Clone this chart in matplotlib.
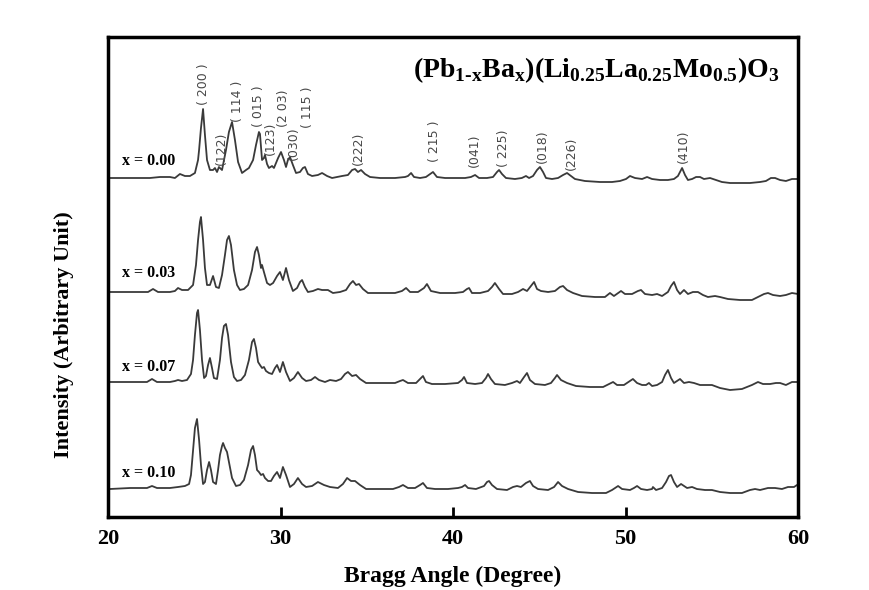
import matplotlib
matplotlib.use("Agg")
from matplotlib import pyplot as plt

# x = 0.00
angle_000 = [20.12, 21.28, 22.43, 23.01, 23.59, 23.88, 24.17, 24.46, 24.75, 25.04, 25.22, 25.28,
             25.39, 25.51, 25.62, 25.74, 25.91, 26.09, 26.20, 26.32, 26.43, 26.61, 26.84, 27.01,
             27.19, 27.36, 27.54, 27.77, 28.00, 28.17, 28.41, 28.58, 28.75, 28.81, 28.93, 29.04,
             29.10, 29.22, 29.33, 29.51, 29.62, 29.86, 30.03, 30.20, 30.32, 30.43, 30.55, 30.72,
             30.90, 31.13, 31.30, 31.42, 31.59, 31.83, 32.17, 32.41, 32.70, 32.99, 33.28, 33.57,
             33.91, 34.15, 34.32, 34.49, 34.67, 34.90, 35.19, 35.77, 36.64, 37.22, 37.39, 37.57,
             37.74, 38.09, 38.43, 38.67, 38.84, 39.07, 39.54, 40.12, 40.70, 41.04, 41.28, 41.51,
             41.97, 42.32, 42.55, 42.67, 42.84, 43.07, 43.59, 43.99, 44.23, 44.41, 44.64, 44.87,
             45.04, 45.22, 45.39, 45.74, 46.09, 46.38, 46.61, 46.84, 47.07, 47.65, 48.52, 49.22,
             49.68, 50.03, 50.26, 50.55, 50.96, 51.25, 51.54, 52.00, 52.46, 52.81, 53.04, 53.28,
             53.45, 53.62, 53.86, 54.09, 54.32, 54.55, 54.90, 55.25, 55.59, 56.06, 56.64, 57.22,
             57.80, 58.14, 58.43, 58.67, 58.96, 59.30, 59.65, 60.00]
inten_000 = [0, 0, 0, 1, 1, 0, 4, 2, 2, 5, 18, 28,
             50, 69, 43, 18, 8, 8, 10, 6, 11, 8, 28, 46,
             56, 38, 16, 5, 8, 10, 18, 33, 46, 44, 18, 20,
             23, 14, 10, 12, 10, 20, 26, 18, 11, 18, 21, 13,
             5, 6, 10, 11, 4, 2, 3, 5, 2, 0, 1, 2,
             3, 8, 9, 6, 8, 4, 1, 0, 0, 1, 2, 5,
             1, 0, 1, 4, 6, 1, 0, 0, 0, 1, 3, 0,
             0, 1, 6, 8, 4, 0, -1, 0, 2, 0, 2, 8,
             11, 6, 0, -1, 0, 3, 5, 2, -1, -3, -4, -4,
             -3, -1, 2, 0, -1, 1, -1, -2, -2, -1, 2, 10,
             3, -2, -1, 1, 1, -1, 0, -2, -4, -5, -5, -5,
             -4, -3, 0, 0, -2, -3, -1, -1]

# x = 0.03
angle_003 = [20.12, 21.28, 22.32, 22.61, 22.90, 23.59, 23.88, 24.06, 24.29, 24.64, 24.93, 25.10,
             25.22, 25.33, 25.39, 25.51, 25.62, 25.74, 25.91, 26.09, 26.26, 26.43, 26.61, 26.78,
             26.90, 27.01, 27.13, 27.30, 27.48, 27.65, 27.88, 28.12, 28.35, 28.52, 28.64, 28.75,
             28.87, 28.93, 29.04, 29.22, 29.39, 29.57, 29.80, 29.97, 30.14, 30.32, 30.49, 30.72,
             30.96, 31.13, 31.25, 31.42, 31.59, 31.88, 32.17, 32.41, 32.75, 33.04, 33.45, 33.80,
             34.03, 34.20, 34.38, 34.55, 34.78, 35.07, 35.77, 36.64, 37.04, 37.28, 37.51, 37.97,
             38.32, 38.49, 38.72, 39.25, 40.12, 40.58, 40.81, 40.93, 41.10, 41.57, 42.03, 42.26,
             42.43, 42.67, 42.90, 43.42, 43.77, 44.06, 44.29, 44.52, 44.70, 44.87, 45.10, 45.51,
             45.91, 46.20, 46.38, 46.61, 46.96, 47.48, 48.23, 48.81, 49.10, 49.33, 49.57, 49.74,
             49.97, 50.38, 50.72, 50.90, 51.13, 51.54, 51.83, 52.12, 52.46, 52.64, 52.81, 52.99,
             53.16, 53.39, 53.62, 53.91, 54.20, 54.49, 54.78, 55.19, 55.48, 55.94, 56.64, 57.33,
             57.68, 58.03, 58.26, 58.55, 58.96, 59.30, 59.65, 60.00]
inten_003 = [0, 0, 0, 3, 0, 0, 1, 4, 2, 2, 7, 27,
             52, 70, 75, 52, 24, 7, 7, 16, 5, 4, 17, 37,
             52, 56, 47, 22, 7, 2, 3, 7, 22, 40, 45, 37,
             24, 27, 20, 9, 7, 9, 16, 20, 12, 24, 12, 1,
             4, 10, 12, 5, 0, 1, 3, 2, 2, -1, 0, 2,
             8, 11, 7, 8, 3, -1, -1, -1, 1, 4, 0, 0,
             4, 8, 1, -1, -1, 0, 3, 4, -1, -1, 1, 5,
             9, 3, -2, -2, 0, 3, 1, 6, 10, 3, 1, 0,
             1, 5, 6, 2, -1, -4, -5, -5, -1, -4, -1, 1,
             -2, -2, 1, 2, -2, -3, -2, -4, 0, 6, 10, 2,
             -2, 2, -2, 0, 0, -3, -5, -4, -5, -7, -8, -8,
             -5, -2, -1, -3, -4, -3, -1, -2]

# x = 0.07
angle_007 = [20.12, 21.28, 22.26, 22.55, 22.84, 23.59, 23.88, 24.06, 24.29, 24.58, 24.81, 24.93,
             25.04, 25.16, 25.22, 25.33, 25.45, 25.57, 25.68, 25.80, 25.91, 26.03, 26.14, 26.32,
             26.49, 26.61, 26.72, 26.84, 26.96, 27.13, 27.30, 27.48, 27.71, 27.94, 28.17, 28.35,
             28.46, 28.58, 28.70, 28.81, 28.93, 29.04, 29.16, 29.33, 29.51, 29.68, 29.80, 29.97,
             30.14, 30.32, 30.55, 30.78, 31.01, 31.25, 31.48, 31.77, 32.00, 32.23, 32.58, 32.87,
             33.22, 33.51, 33.74, 33.91, 34.15, 34.38, 34.61, 34.96, 35.77, 36.64, 36.93, 37.10,
             37.39, 37.86, 38.09, 38.26, 38.43, 38.78, 39.54, 40.29, 40.52, 40.64, 40.81, 41.28,
             41.68, 41.91, 42.03, 42.20, 42.43, 43.01, 43.42, 43.71, 43.88, 44.12, 44.29, 44.46,
             44.75, 45.33, 45.68, 45.91, 46.03, 46.26, 46.61, 47.13, 47.94, 48.70, 49.04, 49.28,
             49.51, 49.91, 50.26, 50.43, 50.67, 50.96, 51.19, 51.36, 51.54, 51.83, 52.12, 52.29,
             52.46, 52.64, 52.81, 52.99, 53.16, 53.39, 53.68, 53.97, 54.32, 54.67, 55.01, 55.48,
             56.06, 56.75, 57.33, 57.68, 57.97, 58.38, 58.72, 58.96, 59.30, 59.65, 60.00]
inten_007 = [0, 0, 0, 3, 0, 0, 1, 2, 1, 2, 8, 22,
             47, 69, 72, 52, 22, 4, 6, 17, 24, 14, 4, 3,
             22, 44, 56, 58, 47, 20, 5, 1, 2, 7, 22, 40,
             43, 34, 20, 17, 14, 15, 11, 9, 8, 14, 17, 10,
             20, 10, 1, 4, 10, 4, 1, 2, 5, 2, 0, 2,
             1, 3, 8, 10, 6, 7, 3, -1, -1, -1, 1, 2,
             -1, -1, 3, 6, 0, -2, -2, -1, 2, 5, -1, -2,
             -1, 4, 8, 3, -2, -3, -1, 1, -1, 5, 9, 2,
             -2, -3, -1, 4, 7, 2, -1, -4, -5, -5, -2, 0,
             -3, -3, 1, 3, -1, -3, -3, -1, -4, -3, 0, 7,
             12, 4, -1, 1, 3, -1, 0, -1, -3, -3, -3, -6,
             -8, -7, -3, 0, -2, -2, -1, -1, -3, 0, 0]

# x = 0.10
angle_010 = [20.12, 21.28, 22.26, 22.55, 22.84, 23.59, 24.06, 24.46, 24.70, 24.81, 24.93, 25.04,
             25.16, 25.28, 25.39, 25.51, 25.62, 25.74, 25.86, 25.97, 26.09, 26.26, 26.38, 26.49,
             26.61, 26.67, 26.78, 26.90, 27.01, 27.19, 27.42, 27.65, 27.88, 28.12, 28.29, 28.41,
             28.52, 28.64, 28.75, 28.87, 28.99, 29.10, 29.28, 29.45, 29.62, 29.80, 29.97, 30.14,
             30.32, 30.55, 30.78, 31.01, 31.25, 31.48, 31.83, 32.17, 32.52, 32.87, 33.33, 33.62,
             33.86, 34.09, 34.32, 34.61, 34.96, 35.77, 36.52, 36.87, 37.10, 37.39, 37.80, 38.09,
             38.26, 38.49, 38.96, 39.71, 40.29, 40.52, 40.70, 40.87, 41.33, 41.80, 41.97, 42.09,
             42.26, 42.55, 43.13, 43.48, 43.71, 43.94, 44.23, 44.46, 44.64, 44.93, 45.51, 45.86,
             46.09, 46.32, 46.67, 47.25, 48.06, 48.87, 49.22, 49.57, 49.80, 50.26, 50.49, 50.67,
             50.90, 51.25, 51.54, 51.59, 51.77, 52.12, 52.35, 52.52, 52.64, 52.81, 52.99, 53.22,
             53.39, 53.57, 53.86, 54.14, 54.61, 55.01, 55.48, 56.06, 56.75, 57.22, 57.51, 57.80,
             58.26, 58.67, 59.07, 59.42, 59.77, 59.94, 60.00]
inten_010 = [-1, 0, 0, 2, 0, 0, 1, 2, 4, 13, 38, 60,
             69, 48, 23, 4, 6, 18, 26, 18, 6, 4, 18, 33,
             42, 45, 40, 36, 26, 10, 2, 3, 8, 23, 38, 42,
             33, 18, 16, 13, 14, 10, 7, 7, 12, 16, 10, 21,
             13, 1, 4, 10, 4, 1, 2, 6, 3, 1, 0, 4,
             10, 7, 7, 3, -1, -1, -1, 1, 3, 0, 0, 3,
             5, 0, -1, -1, 0, 1, 3, 0, -1, 2, 6, 7,
             3, -1, -2, 1, 2, 1, 5, 7, 2, -1, -2, 1,
             6, 2, -1, -4, -5, -5, -2, 2, -1, -2, 0, 2,
             -1, -2, -1, 1, -2, 0, 6, 12, 13, 6, 1, 4,
             2, 0, 1, -1, -2, -2, -4, -5, -5, -2, -1, -2,
             0, 0, -1, 1, 1, 3, 2]

angles = [angle_000, angle_003, angle_007, angle_010]
intensities = [inten_000, inten_003, inten_007, inten_010]
compositions = ["x = 0.00", "x = 0.03", "x = 0.07", "x = 0.10"]

hkl_labels = ["( 200 )", "(122)", "( 114 )", "( 015 )", "(123)", "(2 03)", "(030)", "( 115 )",
              "(222)", "( 215 )", "(041)", "( 225)", "(018)", "(226)", "(410)"]
hkl_angles = [25.51, 26.55, 27.48, 28.75, 29.39, 30.20, 30.72, 31.59,
              34.49, 38.90, 41.22, 42.90, 45.16, 46.84, 53.33]

# stacking / placement (data units of the y axis)
offsets = [339, 225, 135, 29]
composition_label_y = [356, 244, 150, 44]
hkl_label_bottom = [412, 352, 395, 390, 362, 390, 357, 389,
                    352, 355, 350, 350, 354, 347, 354]

plt.rcParams["mathtext.fontset"] = "custom"
plt.rcParams["mathtext.rm"] = "Liberation Serif:bold"
plt.rcParams["mathtext.bf"] = "Liberation Serif:bold"

fig = plt.figure(figsize=(8.7, 5.9), dpi=100)
ax = fig.add_axes([108 / 870, 1 - 517 / 590, 690 / 870, 480 / 590])

for x, y, off in zip(angles, intensities, offsets):
    ax.plot(x, [v + off for v in y], color="#3a3a3a", lw=1.3)

for lab, ly in zip(compositions, composition_label_y):
    ax.text(20.8, ly, lab, family="Liberation Serif", fontweight="bold", fontsize=11.5,
            ha="left", va="center")

for lab, a, b in zip(hkl_labels, hkl_angles, hkl_label_bottom):
    ax.text(a, b, lab, rotation=90, ha="center", va="bottom", fontsize=9,
            color="#484848", family="DejaVu Sans")

ax.text(0.974, 0.917, r"$\mathbf{(Pb}_{\mathrm{1\text{-}x}}\mathbf{Ba}_{\mathrm{x}}\mathbf{)(Li}_{\mathrm{0.25}}"
        r"\mathbf{La}_{\mathrm{0.25}}\mathbf{Mo}_{\mathrm{0.5}}\mathbf{)O}_{\mathrm{3}}$",
        transform=ax.transAxes, ha="right", va="baseline", fontsize=20)

ax.set_xlim(20, 60)
ax.set_ylim(0, 480)
ax.set_xticks([20, 30, 40, 50, 60])
ax.set_yticks([])
ax.tick_params(axis="x", direction="in", length=7, width=2, pad=9, labelsize=16)
for lab in ax.get_xticklabels():
    lab.set_family("Liberation Serif")
    lab.set_fontweight("bold")
for s in ax.spines.values():
    s.set_linewidth(2.5)

ax.set_xlabel("Bragg Angle (Degree)", family="Liberation Serif", fontweight="bold",
              fontsize=17, labelpad=12)
fig.text(64 / 870, 1 - 335 / 590, "Intensity (Arbitrary Unit)", rotation=90, ha="center",
         va="center", family="Liberation Serif", fontweight="bold", fontsize=16)

fig.savefig("out.png", dpi=100)
